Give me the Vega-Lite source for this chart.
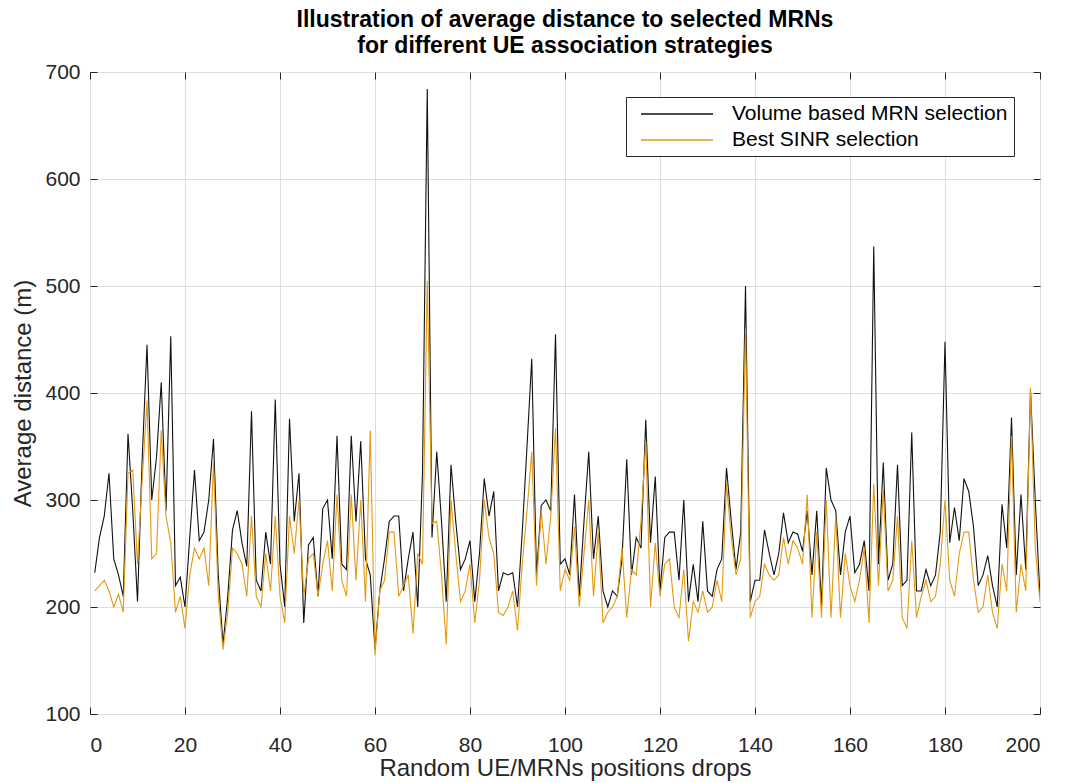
{
"$schema": "https://vega.github.io/schema/vega-lite/v6.json",
"width": 950, "height": 642,
"autosize": "none",
"padding": {"left": 90, "top": 72, "right": 31, "bottom": 69},
"background": "white",
"config": {
  "font": "Liberation Sans",
  "view": {"stroke": "#262626", "strokeWidth": 1},
  "axis": {"labelFont": "Liberation Sans", "titleFont": "Liberation Sans", "labelFontSize": 21, "titleFontSize": 24, "labelColor": "#262626", "titleColor": "#262626", "titleFontWeight": "normal", "gridColor": "#dedede", "gridWidth": 1, "domain": false, "tickColor": "#262626", "tickSize": -7, "tickWidth": 1}
},
"title": {"text": ["Illustration of average distance to selected MRNs", "for different UE association strategies"], "font": "Liberation Sans", "fontSize": 23, "fontWeight": "bold", "color": "#000000", "anchor": "middle", "offset": 3, "lineHeight": 26},
"data": {"values": [
{"x":1,"V":232,"B":215},{"x":2,"V":265,"B":220},{"x":3,"V":285,"B":225},{"x":4,"V":325,"B":215},{"x":5,"V":245,"B":200},
{"x":6,"V":230,"B":212},{"x":7,"V":210,"B":195},{"x":8,"V":362,"B":325},{"x":9,"V":290,"B":328},{"x":10,"V":205,"B":240},
{"x":11,"V":340,"B":320},{"x":12,"V":445,"B":393},{"x":13,"V":300,"B":245},{"x":14,"V":340,"B":250},{"x":15,"V":410,"B":365},
{"x":16,"V":290,"B":285},{"x":17,"V":453,"B":260},{"x":18,"V":220,"B":195},{"x":19,"V":228,"B":210},{"x":20,"V":200,"B":180},
{"x":21,"V":265,"B":230},{"x":22,"V":328,"B":255},{"x":23,"V":262,"B":245},{"x":24,"V":270,"B":255},{"x":25,"V":300,"B":220},
{"x":26,"V":357,"B":335},{"x":27,"V":230,"B":210},{"x":28,"V":165,"B":160},{"x":29,"V":210,"B":195},{"x":30,"V":272,"B":255},
{"x":31,"V":290,"B":250},{"x":32,"V":260,"B":240},{"x":33,"V":238,"B":210},{"x":34,"V":383,"B":285},{"x":35,"V":225,"B":210},
{"x":36,"V":215,"B":200},{"x":37,"V":270,"B":250},{"x":38,"V":240,"B":215},{"x":39,"V":394,"B":285},{"x":40,"V":240,"B":210},
{"x":41,"V":200,"B":185},{"x":42,"V":376,"B":285},{"x":43,"V":280,"B":250},{"x":44,"V":325,"B":300},{"x":45,"V":185,"B":210},
{"x":46,"V":258,"B":245},{"x":47,"V":265,"B":250},{"x":48,"V":210,"B":210},{"x":49,"V":292,"B":240},{"x":50,"V":300,"B":262},
{"x":51,"V":245,"B":215},{"x":52,"V":360,"B":305},{"x":53,"V":240,"B":225},{"x":54,"V":235,"B":210},{"x":55,"V":360,"B":305},
{"x":56,"V":280,"B":225},{"x":57,"V":355,"B":300},{"x":58,"V":245,"B":205},{"x":59,"V":230,"B":365},{"x":60,"V":160,"B":155},
{"x":61,"V":215,"B":215},{"x":62,"V":245,"B":225},{"x":63,"V":280,"B":270},{"x":64,"V":285,"B":270},{"x":65,"V":285,"B":210},
{"x":66,"V":215,"B":220},{"x":67,"V":245,"B":230},{"x":68,"V":270,"B":175},{"x":69,"V":200,"B":250},{"x":70,"V":325,"B":240},
{"x":71,"V":684,"B":505},{"x":72,"V":265,"B":278},{"x":73,"V":345,"B":280},{"x":74,"V":280,"B":230},{"x":75,"V":205,"B":165},
{"x":76,"V":333,"B":300},{"x":77,"V":280,"B":250},{"x":78,"V":235,"B":205},{"x":79,"V":245,"B":215},{"x":80,"V":262,"B":240},
{"x":81,"V":205,"B":185},{"x":82,"V":250,"B":225},{"x":83,"V":320,"B":300},{"x":84,"V":285,"B":265},{"x":85,"V":308,"B":250},
{"x":86,"V":215,"B":195},{"x":87,"V":232,"B":192},{"x":88,"V":230,"B":200},{"x":89,"V":232,"B":215},{"x":90,"V":200,"B":178},
{"x":91,"V":270,"B":240},{"x":92,"V":350,"B":290},{"x":93,"V":432,"B":345},{"x":94,"V":230,"B":220},{"x":95,"V":295,"B":290},
{"x":96,"V":300,"B":240},{"x":97,"V":290,"B":285},{"x":98,"V":455,"B":367},{"x":99,"V":240,"B":215},{"x":100,"V":245,"B":235},
{"x":101,"V":230,"B":225},{"x":102,"V":305,"B":275},{"x":103,"V":210,"B":200},{"x":104,"V":280,"B":250},{"x":105,"V":345,"B":300},
{"x":106,"V":245,"B":210},{"x":107,"V":285,"B":270},{"x":108,"V":215,"B":185},{"x":109,"V":200,"B":195},{"x":110,"V":215,"B":200},
{"x":111,"V":210,"B":210},{"x":112,"V":245,"B":255},{"x":113,"V":338,"B":190},{"x":114,"V":230,"B":235},{"x":115,"V":265,"B":230},
{"x":116,"V":255,"B":280},{"x":117,"V":375,"B":355},{"x":118,"V":260,"B":200},{"x":119,"V":322,"B":260},{"x":120,"V":215,"B":210},
{"x":121,"V":265,"B":240},{"x":122,"V":270,"B":245},{"x":123,"V":270,"B":200},{"x":124,"V":225,"B":190},{"x":125,"V":300,"B":235},
{"x":126,"V":205,"B":168},{"x":127,"V":240,"B":205},{"x":128,"V":205,"B":195},{"x":129,"V":280,"B":215},{"x":130,"V":215,"B":195},
{"x":131,"V":210,"B":200},{"x":132,"V":235,"B":225},{"x":133,"V":245,"B":205},{"x":134,"V":330,"B":315},{"x":135,"V":280,"B":265},
{"x":136,"V":235,"B":230},{"x":137,"V":270,"B":245},{"x":138,"V":500,"B":460},{"x":139,"V":205,"B":190},{"x":140,"V":225,"B":205},
{"x":141,"V":225,"B":210},{"x":142,"V":272,"B":240},{"x":143,"V":250,"B":230},{"x":144,"V":230,"B":225},{"x":145,"V":250,"B":230},
{"x":146,"V":288,"B":265},{"x":147,"V":260,"B":240},{"x":148,"V":270,"B":262},{"x":149,"V":268,"B":255},{"x":150,"V":252,"B":240},
{"x":151,"V":290,"B":305},{"x":152,"V":230,"B":190},{"x":153,"V":290,"B":270},{"x":154,"V":200,"B":190},{"x":155,"V":330,"B":300},
{"x":156,"V":300,"B":190},{"x":157,"V":290,"B":285},{"x":158,"V":230,"B":190},{"x":159,"V":270,"B":250},{"x":160,"V":285,"B":220},
{"x":161,"V":232,"B":205},{"x":162,"V":240,"B":225},{"x":163,"V":262,"B":255},{"x":164,"V":215,"B":185},{"x":165,"V":537,"B":315},
{"x":166,"V":240,"B":220},{"x":167,"V":335,"B":310},{"x":168,"V":225,"B":215},{"x":169,"V":240,"B":225},{"x":170,"V":333,"B":285},
{"x":171,"V":220,"B":190},{"x":172,"V":225,"B":180},{"x":173,"V":363,"B":262},{"x":174,"V":215,"B":190},{"x":175,"V":215,"B":210},
{"x":176,"V":235,"B":225},{"x":177,"V":220,"B":205},{"x":178,"V":230,"B":210},{"x":179,"V":270,"B":240},{"x":180,"V":448,"B":300},
{"x":181,"V":260,"B":225},{"x":182,"V":293,"B":210},{"x":183,"V":262,"B":250},{"x":184,"V":320,"B":270},{"x":185,"V":308,"B":270},
{"x":186,"V":275,"B":225},{"x":187,"V":220,"B":195},{"x":188,"V":230,"B":200},{"x":189,"V":248,"B":230},{"x":190,"V":220,"B":195},
{"x":191,"V":200,"B":180},{"x":192,"V":296,"B":240},{"x":193,"V":255,"B":215},{"x":194,"V":377,"B":360},{"x":195,"V":230,"B":195},
{"x":196,"V":305,"B":240},{"x":197,"V":235,"B":215},{"x":198,"V":402,"B":405},{"x":199,"V":300,"B":255},{"x":200,"V":210,"B":205}
]},
"resolve": {"axis": {"x": "independent", "y": "independent"}},
"layer": [
  {"mark": {"type": "line", "strokeWidth": 1.1, "clip": true},
   "encoding": {
     "x": {"field": "x", "type": "quantitative", "scale": {"domain": [0, 200], "nice": false}, "axis": {"orient": "bottom", "values": [0,20,40,60,80,100,120,140,160,180,200], "title": "Random UE/MRNs positions drops", "labelPadding": 27, "titlePadding": 1}},
     "y": {"field": "V", "type": "quantitative", "scale": {"domain": [100, 700], "nice": false, "zero": false}, "axis": {"orient": "left", "values": [100,200,300,400,500,600,700], "title": "Average distance (m)", "labelPadding": 17, "titlePadding": 9}},
     "color": {"datum": "Volume based MRN selection", "type": "nominal",
       "scale": {"domain": ["Volume based MRN selection", "Best SINR selection"], "range": ["#111111", "#e39a12"]},
       "legend": {"title": null, "orient": "none", "legendX": 536, "legendY": 25, "symbolType": "M-0.2,0H7", "symbolSize": 400, "symbolStrokeWidth": 1.3, "labelFont": "Liberation Sans", "labelFontSize": 21, "labelColor": "#000000", "rowPadding": 5, "padding": 6, "fillColor": "white", "strokeColor": "#262626", "labelOffset": 78, "labelLimit": 500}}
   }},
  {"mark": {"type": "line", "strokeWidth": 1.1, "clip": true},
   "encoding": {
     "x": {"field": "x", "type": "quantitative", "axis": null},
     "y": {"field": "B", "type": "quantitative", "axis": null},
     "color": {"datum": "Best SINR selection", "type": "nominal"}
   }},
  {"mark": {"type": "point", "opacity": 0},
   "encoding": {
     "x": {"field": "x", "type": "quantitative", "axis": {"orient": "top", "values": [0,20,40,60,80,100,120,140,160,180,200], "labels": false, "grid": false, "title": null}},
     "y": {"field": "V", "type": "quantitative", "axis": {"orient": "right", "values": [100,200,300,400,500,600,700], "labels": false, "grid": false, "title": null}}
   }}
]
}
